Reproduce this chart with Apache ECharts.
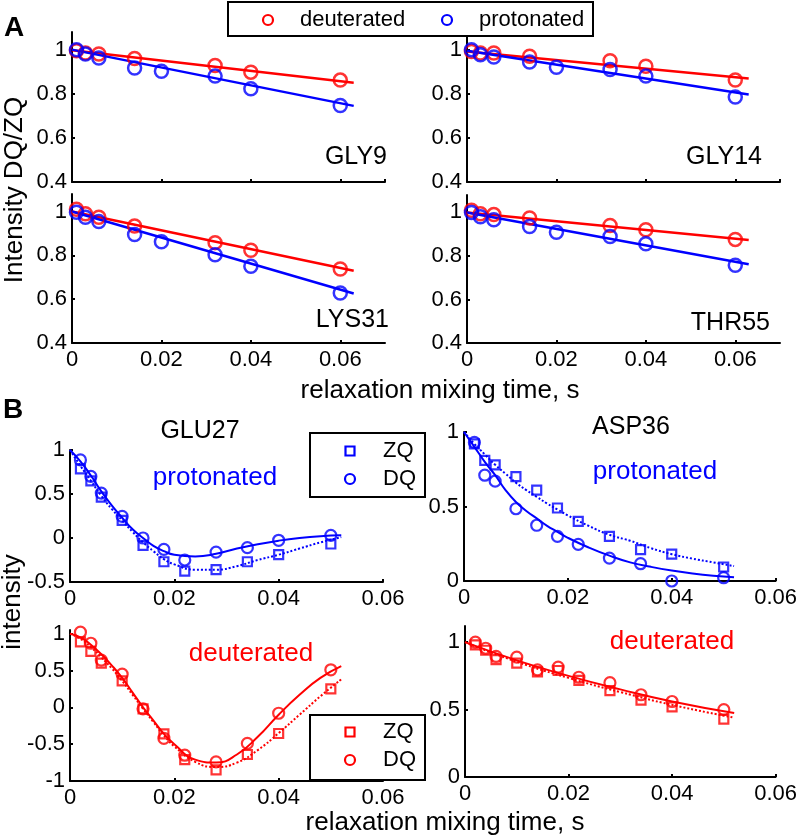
<!DOCTYPE html>
<html>
<head>
<meta charset="utf-8">
<script src="https://cdn.jsdelivr.net/npm/echarts@6/dist/echarts.min.js"></script>
<style>html,body{margin:0;padding:0;background:#fff}#c{width:800px;height:840px}</style>
</head>
<body>
<div id="c"></div>
<script>
// ---------- Panel A data ----------
var tDeut = [0.001, 0.003, 0.006, 0.014, 0.032, 0.04, 0.06];
var tProt = [0.001, 0.003, 0.006, 0.014, 0.02, 0.032, 0.04, 0.06];
var tLineA = [0, 0.063];
var residuesA = ['GLY9', 'GLY14', 'LYS31', 'THR55'];
var legendA = ['deuterated', 'protonated'];
var gly9Deut  = [0.995, 0.985, 0.98, 0.96, 0.928, 0.898, 0.862];
var gly9Prot  = [1.0, 0.98, 0.962, 0.917, 0.902, 0.88, 0.823, 0.747];
var gly9DeutFit = [0.997, 0.85];
var gly9ProtFit = [1.0, 0.745];
var gly14Deut = [0.992, 0.985, 0.985, 0.97, 0.95, 0.925, 0.862];
var gly14Prot = [1.0, 0.977, 0.967, 0.944, 0.92, 0.91, 0.88, 0.785];
var gly14DeutFit = [0.992, 0.869];
var gly14ProtFit = [0.995, 0.797];
var lys31Deut = [1.01, 0.99, 0.974, 0.934, 0.858, 0.823, 0.738];
var lys31Prot = [0.997, 0.974, 0.954, 0.895, 0.862, 0.803, 0.75, 0.628];
var lys31DeutFit = [1.0, 0.73];
var lys31ProtFit = [1.0, 0.626];
var thr55Deut = [1.01, 0.994, 0.99, 0.974, 0.94, 0.92, 0.876];
var thr55Prot = [1.0, 0.98, 0.966, 0.935, 0.909, 0.889, 0.856, 0.757];
var thr55DeutFit = [1.0, 0.873];
var thr55ProtFit = [1.0, 0.762];

// ---------- Panel B data ----------
var legendB = ['ZQ', 'DQ'];
var residuesB = ['GLU27', 'ASP36'];
var tB = [0.002, 0.004, 0.006, 0.01, 0.014, 0.018, 0.022, 0.028, 0.034, 0.04, 0.05];
var tFit = [0, 0.002, 0.004, 0.006, 0.008, 0.01, 0.012, 0.014, 0.016, 0.018, 0.02, 0.024, 0.028, 0.032, 0.036, 0.04, 0.044, 0.048, 0.052];
var tFitLin = [0, 0.01, 0.02, 0.03, 0.04, 0.052];
var glu27ProtZQ = [0.785, 0.65, 0.464, 0.2, -0.083, -0.27, -0.377, -0.36, -0.27, -0.19, -0.068];
var glu27ProtDQ = [0.887, 0.70, 0.51, 0.245, 0.0, -0.13, -0.25, -0.16, -0.11, -0.026, 0.03];
var glu27ProtZQFit = [1.0, 0.82, 0.65, 0.48, 0.33, 0.2, 0.07, -0.05, -0.15, -0.24, -0.3, -0.36, -0.36, -0.32, -0.25, -0.19, -0.12, -0.05, 0.01];
var glu27ProtDQFit = [1.0, 0.87, 0.71, 0.53, 0.37, 0.23, 0.1, 0.0, -0.09, -0.15, -0.19, -0.21, -0.18, -0.12, -0.07, -0.03, 0.0, 0.02, 0.03];
var asp36ProtZQ = [0.92, 0.81, 0.78, 0.70, 0.61, 0.49, 0.40, 0.30, 0.21, 0.18, 0.094];
var asp36ProtDQ = [0.93, 0.71, 0.67, 0.485, 0.374, 0.30, 0.246, 0.154, 0.116, 0.0, 0.022];
var asp36ProtZQFit = [1.0, 0.92, 0.85, 0.78, 0.72, 0.66, 0.61, 0.565, 0.52, 0.48, 0.44, 0.37, 0.31, 0.27, 0.22, 0.18, 0.15, 0.125, 0.10];
var asp36ProtDQFit = [1.0, 0.9, 0.8, 0.71, 0.61, 0.53, 0.47, 0.42, 0.37, 0.33, 0.29, 0.225, 0.17, 0.125, 0.095, 0.07, 0.05, 0.035, 0.025];
var glu27DeutZQ = [0.89, 0.76, 0.60, 0.36, -0.02, -0.36, -0.71, -0.85, -0.64, -0.355, 0.25];
var glu27DeutDQ = [1.02, 0.87, 0.64, 0.45, -0.02, -0.42, -0.65, -0.74, -0.49, -0.08, 0.51];
var glu27DeutZQFit = [1.0, 0.93, 0.82, 0.68, 0.53, 0.36, 0.17, -0.02, -0.2, -0.38, -0.53, -0.74, -0.81, -0.75, -0.58, -0.35, -0.1, 0.15, 0.38];
var glu27DeutDQFit = [1.0, 0.95, 0.85, 0.72, 0.57, 0.40, 0.2, 0.0, -0.18, -0.36, -0.5, -0.71, -0.75, -0.64, -0.4, -0.1, 0.17, 0.4, 0.56];
var asp36DeutZQ = [0.98, 0.94, 0.87, 0.845, 0.78, 0.79, 0.716, 0.64, 0.57, 0.52, 0.43];
var asp36DeutDQ = [1.0, 0.955, 0.894, 0.889, 0.795, 0.815, 0.74, 0.70, 0.61, 0.56, 0.5];
var asp36DeutZQFit = [1.0, 0.855, 0.735, 0.63, 0.535, 0.44];
var asp36DeutDQFit = [1.0, 0.865, 0.75, 0.65, 0.56, 0.474];

// ---------- helpers ----------
var RED = '#ff0000', BLUE = '#0000ff';
var FONT = "'Liberation Sans', Arial, sans-serif";
function pts(x, y) { return x.map(function (v, i) { return [v, y[i]]; }); }

var grids = [
  {left: 72, top: 32, width: 313, height: 150},
  {left: 467, top: 32, width: 313, height: 150},
  {left: 72, top: 194, width: 313, height: 149},
  {left: 467, top: 195, width: 313, height: 148},
  {left: 70, top: 450, width: 313, height: 132},
  {left: 464, top: 432, width: 315, height: 149},
  {left: 70, top: 630, width: 313, height: 151},
  {left: 465, top: 626, width: 314, height: 151}
];
var axisLine = {show: true, onZero: false, lineStyle: {color: '#000', width: 2}};
var axisTick = {show: true, inside: true, length: 3, lineStyle: {color: '#000', width: 2}};
function xAx(i, max, showLabels) {
  return {type: 'value', gridIndex: i, min: 0, max: max, interval: 0.02,
    axisLine: axisLine, axisTick: axisTick, splitLine: {show: false},
    axisLabel: {show: showLabels, color: '#000', fontSize: 22, fontFamily: FONT, margin: 6, showMaxLabel: max === 0.06}};
}
function yAx(i, min, max, interval, showMax) {
  return {type: 'value', gridIndex: i, min: min, max: max, interval: interval,
    axisLine: axisLine, axisTick: axisTick, splitLine: {show: false},
    axisLabel: {color: '#000', fontSize: 22, fontFamily: FONT, margin: 5, showMaxLabel: showMax}};
}
var xAxis = [xAx(0, 0.07, false), xAx(1, 0.07, false), xAx(2, 0.07, true), xAx(3, 0.07, true),
  xAx(4, 0.06, true), xAx(5, 0.06, true), xAx(6, 0.06, true), xAx(7, 0.06, true)];
var yAxis = [yAx(0, 0.4, 1.08, 0.2, false), yAx(1, 0.4, 1.08, 0.2, false), yAx(2, 0.4, 1.08, 0.2, false), yAx(3, 0.4, 1.08, 0.2, false),
  yAx(4, -0.5, 1, 0.5, true), yAx(5, 0, 1, 0.5, true), yAx(6, -1, 1.05, 0.5, false), yAx(7, 0, 1.12, 0.5, false)];

var series = [];
function scatter(name, gi, data, color, symbol, size, bw) {
  series.push({type: 'scatter', name: name, xAxisIndex: gi, yAxisIndex: gi, data: data,
    symbol: symbol, symbolSize: size, z: 3,
    itemStyle: {color: 'transparent', borderColor: color, borderWidth: bw}});
}
function line(name, gi, data, color, dotted, width, smooth) {
  series.push({type: 'line', name: name, xAxisIndex: gi, yAxisIndex: gi, data: data,
    showSymbol: false, symbol: 'none', smooth: smooth, z: 2,
    lineStyle: {color: color, width: width, type: dotted ? [2, 2] : 'solid'}});
}
var setsA = [
  [gly9Deut, gly9Prot, gly9DeutFit, gly9ProtFit],
  [gly14Deut, gly14Prot, gly14DeutFit, gly14ProtFit],
  [lys31Deut, lys31Prot, lys31DeutFit, lys31ProtFit],
  [thr55Deut, thr55Prot, thr55DeutFit, thr55ProtFit]
];
setsA.forEach(function (s, gi) {
  line(legendA[0] + ' fit', gi, pts(tLineA, s[2]), RED, false, 2.5, false);
  line(legendA[1] + ' fit', gi, pts(tLineA, s[3]), BLUE, false, 2.5, false);
  scatter(legendA[0], gi, pts(tDeut, s[0]), RED, 'circle', 13, 2.5);
  scatter(legendA[1], gi, pts(tProt, s[1]), BLUE, 'circle', 13, 2.5);
});
var setsB = [
  [glu27ProtZQ, glu27ProtDQ, tFit, glu27ProtZQFit, glu27ProtDQFit, BLUE],
  [asp36ProtZQ, asp36ProtDQ, tFit, asp36ProtZQFit, asp36ProtDQFit, BLUE],
  [glu27DeutZQ, glu27DeutDQ, tFit, glu27DeutZQFit, glu27DeutDQFit, RED],
  [asp36DeutZQ, asp36DeutDQ, tFitLin, asp36DeutZQFit, asp36DeutDQFit, RED]
];
setsB.forEach(function (s, k) {
  var gi = 4 + k;
  line(legendB[0] + ' fit', gi, pts(s[2], s[3]), s[5], true, 2, true);
  line(legendB[1] + ' fit', gi, pts(s[2], s[4]), s[5], false, 2, true);
  scatter(legendB[0], gi, pts(tB, s[0]), s[5], 'rect', 9, 2.2);
  scatter(legendB[1], gi, pts(tB, s[1]), s[5], 'circle', 11, 2.2);
});

function txt(s, x, y, size, opts) {
  opts = opts || {};
  return {type: 'text', x: x, y: y, rotation: opts.rot || 0, z: 20,
    style: {text: s, fill: opts.color || '#000',
      font: (opts.bold ? 'bold ' : '') + size + 'px ' + FONT,
      textAlign: opts.align || 'center', textVerticalAlign: 'middle',
      align: opts.align || 'center', verticalAlign: 'middle'}};
}
function box(x, y, w, h) {
  return {type: 'rect', z: 15, shape: {x: x, y: y, width: w, height: h},
    style: {fill: '#fff', stroke: '#000', lineWidth: 2}};
}
function circ(cx, cy, r, color) {
  return {type: 'circle', z: 20, shape: {cx: cx, cy: cy, r: r},
    style: {fill: 'none', stroke: color, lineWidth: 2.2}};
}
function sq(cx, cy, s, color) {
  return {type: 'rect', z: 20, shape: {x: cx - s / 2, y: cy - s / 2, width: s, height: s},
    style: {fill: 'none', stroke: color, lineWidth: 2.2}};
}
var graphic = [
  // legend A
  box(228, 2, 365, 34),
  circ(268, 20, 5, RED), txt(legendA[0], 300, 20, 22, {align: 'left'}),
  circ(447, 20, 5, BLUE), txt(legendA[1], 479, 20, 22, {align: 'left'}),
  // legend B (protonated)
  box(310, 433, 115, 64),
  sq(350, 451, 9, BLUE), txt(legendB[0], 383, 451, 22, {align: 'left'}),
  circ(350, 479, 5, BLUE), txt(legendB[1], 383, 479, 22, {align: 'left'}),
  // legend B (deuterated)
  box(310, 715, 115, 65),
  sq(350, 732, 9, RED), txt(legendB[0], 383, 732, 22, {align: 'left'}),
  circ(350, 760, 5, RED), txt(legendB[1], 383, 760, 22, {align: 'left'}),
  // labels
  txt('A', 14, 28, 28, {bold: true}),
  txt('B', 13, 410, 28, {bold: true}),
  txt('Intensity DQ/ZQ', 15, 190, 26, {rot: Math.PI / 2}),
  txt('intensity', 13, 602, 26, {rot: Math.PI / 2}),
  txt('relaxation mixing time, s', 440, 391, 26),
  txt('relaxation mixing time, s', 445, 823, 26),
  txt(residuesA[0], 387, 157, 25, {align: 'right'}),
  txt(residuesA[1], 762, 157, 25, {align: 'right'}),
  txt(residuesA[2], 389, 320, 25, {align: 'right'}),
  txt(residuesA[3], 770, 323, 25, {align: 'right'}),
  txt(residuesB[0], 200, 431, 25),
  txt(residuesB[1], 631, 427, 25),
  txt(legendA[1], 215, 478, 26, {color: BLUE}),
  txt(legendA[1], 655, 472, 26, {color: BLUE}),
  txt(legendA[0], 251, 654, 26, {color: RED}),
  txt(legendA[0], 672, 642, 26, {color: RED})
];

var chart = echarts.init(document.getElementById('c'), null, {renderer: 'canvas'});
chart.setOption({
  animation: false,
  backgroundColor: '#fff',
  grid: grids,
  xAxis: xAxis,
  yAxis: yAxis,
  series: series,
  graphic: graphic
});
</script>
</body>
</html>
